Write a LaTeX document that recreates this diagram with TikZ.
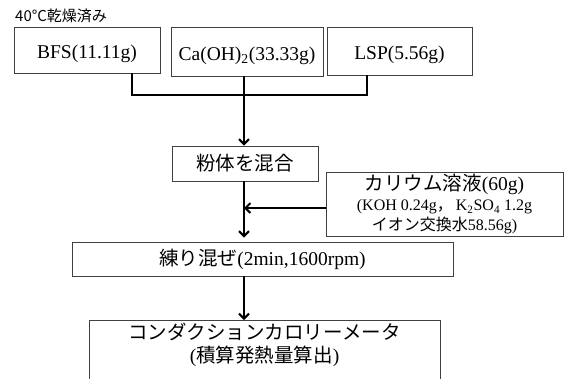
\documentclass[tikz,border=0pt]{standalone}
\usepackage{fontspec}
\setmainfont{Liberation Serif}
\newfontfamily\jp{Noto Sans CJK JP}
\newcommand\J[1]{{\jp #1}}
\usetikzlibrary{arrows.meta}
\begin{document}
\begin{tikzpicture}[x=1pt,y=-1pt,
  box/.style={draw=black!75, line width=0.9pt, inner sep=0pt, fill=white,
    font=\fontsize{19.5}{23}\selectfont},
  topbox/.style={text height=19pt, text depth=2pt},
  conn/.style={line width=2.2pt, black},
  arr/.style={-{Straight Barb[length=5pt,width=10pt,line width=2pt]}},
  lbl/.style={inner sep=0pt, font=\jp\fontsize{15}{18}\selectfont}]
\useasboundingbox (0,0) rectangle (564,378);
\clip (0,0) rectangle (564,378);

\node[lbl, anchor=base west] (dry) at (15,21.5) {40°C乾燥済み};

\node[box, topbox, minimum width=146, minimum height=46] (bfs) at (87,50) {BFS(11.11g)};
\node[box, topbox, minimum width=152, minimum height=49] (ca) at (247,51.5) {Ca(OH)\textsubscript{2}(33.33g)};
\node[box, topbox, minimum width=145, minimum height=48] (lsp) at (399.5,51) {LSP(5.56g)};

\node[box, minimum width=146, minimum height=35] (mix) at (245,163.5) {\J{粉体を混合}};

\node[box, minimum width=237, minimum height=64, align=center,
  font=\fontsize{19.5}{20}\selectfont] (kal) at (444.5,204)
  {\J{カリウム溶液}(60g)\\
   {\fontsize{16}{18}\selectfont (KOH 0.24g\J{，}\hspace{3pt}K\textsubscript{2}SO\textsubscript{4} 1.2g}\\
   {\fontsize{16}{18}\selectfont \J{イオン交換水}58.56g)}};

\node[box, minimum width=381, minimum height=34] (knead) at (262.5,259) {\J{練り混ぜ}(2min,1600rpm)};

\node[box, anchor=north, minimum width=351, text height=19pt, text depth=65pt] (calor) at (264.5,320)
  {\begin{tabular}[t]{@{}c@{}}\J{コンダクションカロリーメータ}\\(\J{積算発熱量算出})\end{tabular}};

\coordinate (jl) at (132,95);
\coordinate (jc) at (244,95);
\coordinate (jr) at (367,95);

\draw[conn] (bfs.south -| jl) -- (jl) -- (jr) -- (lsp.south -| jr);
\draw[conn, arr] (ca.south -| jc) -- (mix.north -| jc);
\draw[conn, arr] (mix.south -| jc) -- ([yshift=4pt]knead.north -| jc);
\draw[conn, arr] ([yshift=-4pt]kal.west) coordinate (kin) -- (kin -| jc);
\draw[conn, arr] (knead.south -| jc) -- (calor.north -| jc);
\end{tikzpicture}
\end{document}
